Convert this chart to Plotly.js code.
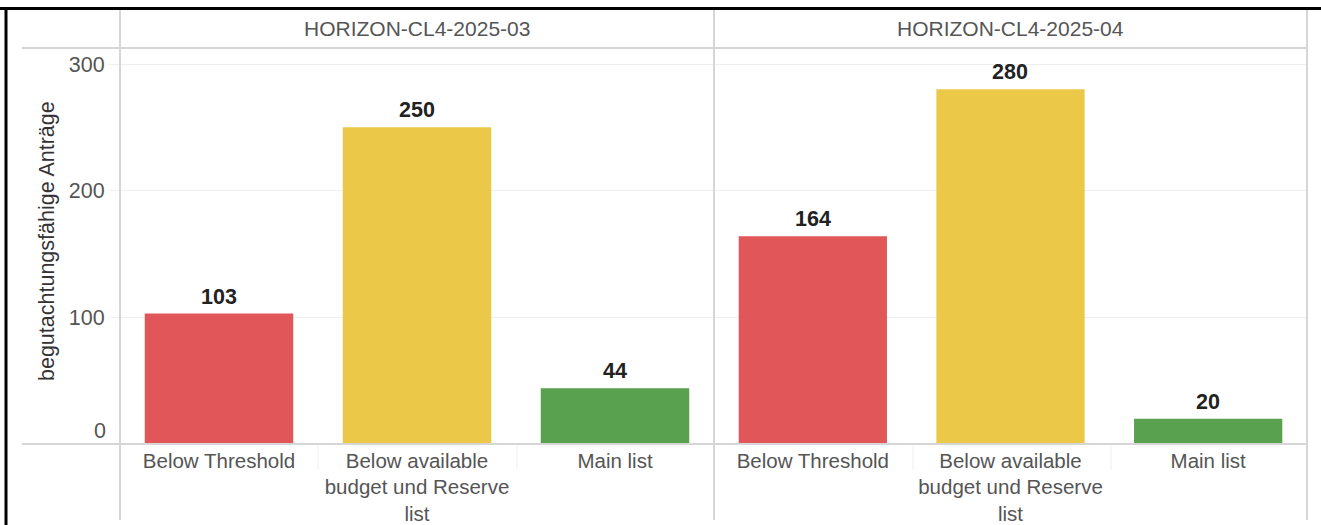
<!DOCTYPE html>
<html>
<head>
<meta charset="utf-8">
<script src="https://cdn.plot.ly/plotly-3.0.1.min.js"></script>
<style>
  html, body { margin: 0; padding: 0; background: #fff; }
  #chart { width: 1321px; height: 525px; }
</style>
</head>
<body>
<div id="chart"></div>
<script>
// ---- data ----
const panels = ["HORIZON-CL4-2025-03", "HORIZON-CL4-2025-04"];
const categories = ["Below Threshold", "Below available<br>budget und Reserve<br>list", "Main list"];
const values03 = [103, 250, 44];
const values04 = [164, 280, 20];
const barColors = ["#E15759", "#EBC847", "#59A14F"];
const yTicks = [0, 100, 200, 300];
const yTitle = "begutachtungsfähige Anträge";

// ---- layout geometry (pixels) ----
const W = 1321, H = 525;
const L = 120, R = 1307, T = 48, B = 444;
const plotW = R - L;
const split = (714 - L) / plotW;
const font = "Liberation Sans, Arial, sans-serif";
const px = x => (x - L) / plotW;            // pixel -> paper x
const py = y => (B - y) / (B - T);          // pixel -> paper y

const allVals = [values03, values04];
const traces = allVals.map((vals, i) => ({
  type: "bar",
  x: categories,
  y: vals,
  xaxis: i === 0 ? "x" : "x2",
  yaxis: "y",
  marker: { color: barColors, line: { width: 0 } },
  hoverinfo: "x+y",
  showlegend: false
}));

const annotations = [];
allVals.forEach((vals, i) => {
  vals.forEach((v, j) => {
    annotations.push({
      xref: i === 0 ? "x" : "x2", yref: "y",
      x: categories[j], y: v,
      text: "<b>" + v + "</b>",
      showarrow: false, xanchor: "center", yanchor: "bottom", yshift: 3,
      font: { family: font, size: 21.5, color: "#222" }
    });
  });
  annotations.push({
    xref: "paper", yref: "paper",
    x: i === 0 ? split / 2 : (split + 1) / 2,
    y: py(29), xanchor: "center", yanchor: "middle",
    text: panels[i], showarrow: false,
    font: { family: font, size: 21, color: "#555" }
  });
});
// bottom tick label sits just above the axis line (as in the original)
annotations.push({
  xref: "paper", yref: "y",
  x: px(108), y: yTicks[0], xanchor: "right", yanchor: "middle", yshift: 13,
  text: String(yTicks[0]), showarrow: false,
  font: { family: font, size: 21.5, color: "#555" }
});
annotations.push({
  xref: "paper", yref: "paper",
  x: px(47), y: py(241), xanchor: "center", yanchor: "middle",
  text: yTitle, textangle: -90, showarrow: false,
  font: { family: font, size: 21.5, color: "#333" }
});

const line = (x0, y0, x1, y1, color, width) => ({
  type: "line", xref: "paper", yref: "paper", layer: "above",
  x0: px(x0), y0: py(y0), x1: px(x1), y1: py(y1),
  line: { color: color, width: width }
});
const grey = "#d6d6d6";
const shapes = [
  line(120, 10, 120, 520, grey, 2),
  line(714, 10, 714, 520, grey, 2),
  line(1307, 10, 1307, 520, grey, 2),
  line(22, 48, 1307, 48, grey, 2),
  line(22, 444, 1307, 444, grey, 2),
  // faint separators between category labels
  line(318, 446, 318, 470, "#f0f0f0", 1),
  line(517, 446, 517, 470, "#f0f0f0", 1),
  line(913, 446, 913, 470, "#f0f0f0", 1),
  line(1111, 446, 1111, 470, "#f0f0f0", 1),
  // black frame
  line(0, 8.5, 1321, 8.5, "#000", 3),
  line(6, 8, 6, 525, "#000", 3)
];

const xcommon = {
  type: "category",
  showgrid: false, zeroline: false, showline: false,
  ticks: "", ticklabelstandoff: 2,
  tickfont: { family: font, size: 20.5, color: "#555" },
  anchor: "y", fixedrange: true
};

const layout = {
  width: W, height: H,
  margin: { l: L, r: W - R, t: T, b: H - B, pad: 0 },
  paper_bgcolor: "#fff", plot_bgcolor: "#fff",
  bargap: 0.25,
  xaxis: Object.assign({}, xcommon, { domain: [0, split] }),
  xaxis2: Object.assign({}, xcommon, { domain: [split, 1] }),
  yaxis: {
    range: [0, 300 * (B - T) / (B - 64)],
    tickvals: yTicks.slice(1), ticktext: yTicks.slice(1).map(String),
    showgrid: true, gridcolor: "#efefef", gridwidth: 1,
    zeroline: false, showline: false,
    ticks: "outside", ticklen: 10, tickcolor: "#efefef",
    tickfont: { family: font, size: 21.5, color: "#555" },
    fixedrange: true
  },
  annotations: annotations,
  shapes: shapes,
  font: { family: font }
};

Plotly.newPlot("chart", traces, layout, { displayModeBar: false, staticPlot: true });
</script>
</body>
</html>
